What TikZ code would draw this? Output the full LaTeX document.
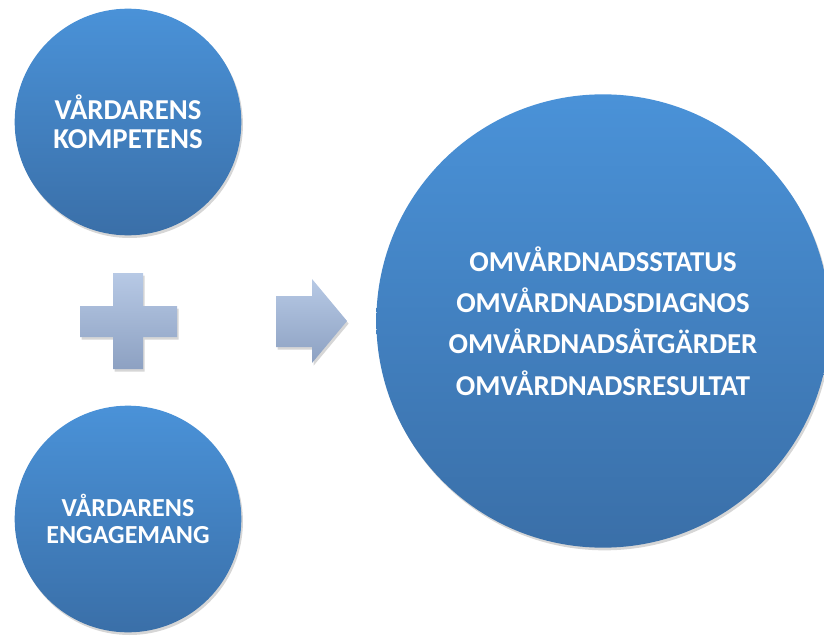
\documentclass[tikz,border=0pt]{standalone}
\usepackage{fontspec}
\setmainfont{Carlito}
\usetikzlibrary{positioning,shadows}
\definecolor{bubTop}{HTML}{4A92D8}
\definecolor{bubBottom}{HTML}{3A6FA8}
\definecolor{signTop}{HTML}{B7C9E5}
\definecolor{signBottom}{HTML}{8DA1C2}

\begin{document}
\begin{tikzpicture}[
      x=.75pt, y=-.75pt,
      softshadow/.style={drop shadow={shadow xshift=1.2pt, shadow yshift=-2pt, opacity=.16, fill=black}},
      bubble/.style={circle, draw=none, top color=bubTop, bottom color=bubBottom,
        text=white, align=center, inner sep=0pt, softshadow,
        font=\bfseries\fontsize{21.6}{21.5}\selectfont},
      sign/.style={draw=none, top color=signTop, bottom color=signBottom, softshadow}
    ]
      \useasboundingbox (0,0) rectangle (824,635);

      \node[bubble, minimum size=170pt] (kompetens) at (128,122) {VÅRDARENS\\KOMPETENS};
      \node[bubble, minimum size=170pt, font=\bfseries\fontsize{19.5}{19.8}\selectfont]
        (engagemang) at (128,519) {VÅRDARENS\\ENGAGEMANG};
      \node[bubble, minimum size=340pt] (omvardnad) at (603,321)
        {OMVÅRDNADSSTATUS\\[9.5pt]OMVÅRDNADSDIAGNOS\\[9.5pt]OMVÅRDNADSÅTGÄRDER\\[9.5pt]OMVÅRDNADSRESULTAT};

      % plus sign
      \path[sign] (113,273) -- (143,273) -- (143,306) -- (177,306) -- (177,337) -- (143,337)
        -- (143,369) -- (113,369) -- (113,337) -- (80,337) -- (80,306) -- (113,306) -- cycle;

      % block arrow
      \path[sign] (276,296) -- (312,296) -- (312,279) -- (347,321) -- (312,363) -- (312,347)
        -- (276,347) -- cycle;
    \end{tikzpicture}
\end{document}
